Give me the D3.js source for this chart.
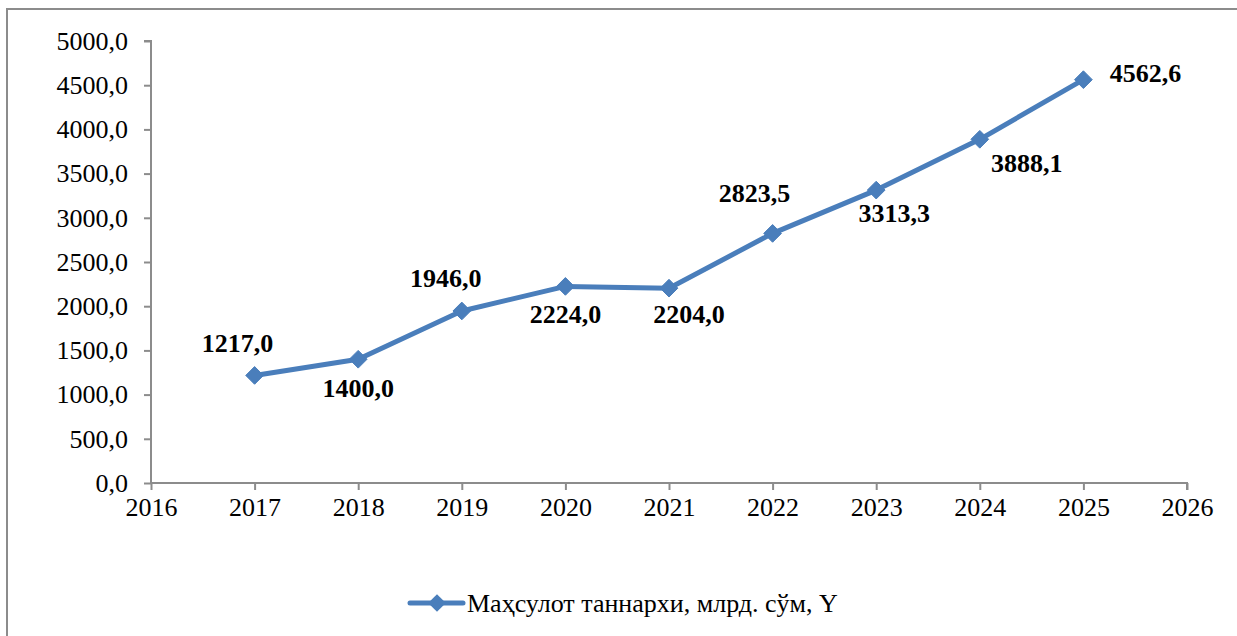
<!DOCTYPE html>
<html>
<head>
<meta charset="utf-8">
<script src="https://cdn.jsdelivr.net/npm/d3@7"></script>
</head>
<body style="margin:0">
<div id="chart"></div>
<script>
// Data
var years = [2017, 2018, 2019, 2020, 2021, 2022, 2023, 2024, 2025];
var values = [1217.0, 1400.0, 1946.0, 2224.0, 2204.0, 2823.5, 3313.3, 3888.1, 4562.6];
var yTicks = [0, 500, 1000, 1500, 2000, 2500, 3000, 3500, 4000, 4500, 5000];
var xTicks = [2016, 2017, 2018, 2019, 2020, 2021, 2022, 2023, 2024, 2025, 2026];
var seriesName = "Маҳсулот таннархи, млрд. сўм, Y";
// label offsets (dx, dy) relative to each point
var labelOffsets = [[-17, -23], [0, 38], [-16, -24], [0, 37], [20, 35], [-18, -31], [18, 32], [47, 33], [62, 2]];

var svgWidth = 1237;
var svgHeight = 636;
var lineColor = "#4a7ebb";
var axisColor = "#8c8c8c";
var serif = "'Liberation Serif'";

var svg = d3.select("#chart")
  .append("svg")
  .attr("width", svgWidth)
  .attr("height", svgHeight);

// chart border (runs off right and bottom)
svg.append("rect")
  .attr("x", 7)
  .attr("y", 9)
  .attr("width", 1300)
  .attr("height", 700)
  .attr("fill", "none")
  .attr("stroke", axisColor)
  .attr("stroke-width", 2);

var xScale = d3.scaleLinear().domain([2016, 2026]).range([151, 1187]);
var yScale = d3.scaleLinear().domain([0, 5000]).range([483, 41]);

var fmt = function (v) { return d3.format(".1f")(v).replace(".", ","); };

// Y axis
var yAxis = svg.append("g")
  .attr("transform", "translate(151,0)")
  .call(d3.axisLeft(yScale).tickValues(yTicks).tickSize(7).tickPadding(16).tickFormat(fmt));

// X axis
var xAxis = svg.append("g")
  .attr("transform", "translate(0,483)")
  .call(d3.axisBottom(xScale).tickValues(xTicks).tickSize(7).tickPadding(8).tickFormat(d3.format("d")));

[xAxis, yAxis].forEach(function (ax) {
  ax.attr("font-family", null).attr("font-size", null);
  ax.select(".domain").attr("stroke", axisColor).attr("stroke-width", 2);
  ax.selectAll(".tick line").attr("stroke", axisColor).attr("stroke-width", 2);
  ax.selectAll(".tick text")
    .attr("fill", "#000")
    .style("font-size", "26px")
    .style("font-family", serif);
});
yAxis.select(".domain").attr("d", "M-7," + yScale(5000) + "H0V" + yScale(0));
xAxis.select(".domain").attr("d", "M" + xScale(2016) + ",0H" + xScale(2026) + "V7");

// Line
var line = d3.line()
  .x(function (d, i) { return xScale(years[i]); })
  .y(function (d) { return yScale(d); });

svg.append("path")
  .datum(values)
  .attr("d", line)
  .attr("fill", "none")
  .attr("stroke", lineColor)
  .attr("stroke-width", 5)
  .attr("stroke-linejoin", "round");

var diamond = d3.symbol().type(d3.symbolDiamond2).size(200);

svg.selectAll(".marker")
  .data(values)
  .enter()
  .append("path")
  .attr("class", "marker")
  .attr("d", diamond)
  .attr("transform", function (d, i) { return "translate(" + xScale(years[i]) + "," + yScale(d) + ")"; })
  .attr("fill", lineColor)
  .attr("stroke", lineColor)
  .attr("stroke-width", 1);

// data labels
svg.selectAll(".dlabel")
  .data(values)
  .enter()
  .append("text")
  .attr("class", "dlabel")
  .attr("x", function (d, i) { return xScale(years[i]) + labelOffsets[i][0]; })
  .attr("y", function (d, i) { return yScale(d) + labelOffsets[i][1]; })
  .attr("text-anchor", "middle")
  .style("font-size", "26px")
  .style("font-family", serif)
  .style("font-weight", "bold")
  .attr("fill", "#000")
  .text(function (d) { return fmt(d); });

// Legend
var legend = svg.append("g").attr("transform", "translate(410,603)");
legend.append("line")
  .attr("x1", 0).attr("x2", 53)
  .attr("y1", 0).attr("y2", 0)
  .attr("stroke", lineColor)
  .attr("stroke-width", 5)
  .attr("stroke-linecap", "round");
legend.append("path")
  .attr("d", diamond)
  .attr("transform", "translate(27,0)")
  .attr("fill", lineColor);
legend.append("text")
  .attr("x", 57)
  .attr("y", 9)
  .style("font-size", "26px")
  .style("font-family", serif)
  .attr("fill", "#000")
  .text(seriesName);
</script>
</body>
</html>
